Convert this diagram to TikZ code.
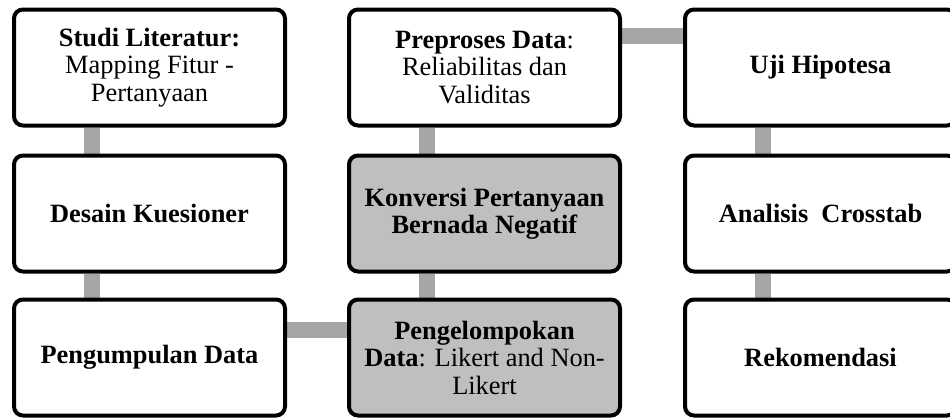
\documentclass[tikz,border=0pt]{standalone}
\usepackage{fontspec}
\setmainfont{Liberation Serif}
\usetikzlibrary{calc}
\pgfdeclarelayer{bg}
\pgfsetlayers{bg,main}
\definecolor{barc}{HTML}{A6A6A6}
\definecolor{boxgray}{HTML}{BFBFBF}
\tikzset{
  stepbox/.style={draw=black, line width=4pt, rounded corners=9pt, fill=white,
    minimum width=271pt, minimum height=116pt, align=center, inner sep=2pt,
    font=\fontsize{26.4}{27.5}\selectfont},
  graybox/.style={stepbox, fill=boxgray},
  bar/.style={draw=barc, line width=16pt},
}
\begin{document}
\begin{tikzpicture}[x=1pt,y=-1pt]
\useasboundingbox (0,0) rectangle (950,418);
\clip (0,0) rectangle (950,418);
\begin{pgfonlayer}{bg}
\fill[white] (0,0) rectangle (950,418);
\end{pgfonlayer}
% nodes
\node[stepbox] (a1) at (149.5,67.5) {\textbf{Studi Literatur:}\\Mapping Fitur -\\Pertanyaan};
\node[stepbox] (a2) at (149.5,213.5) {\textbf{Desain Kuesioner}};
\node[stepbox] (a3) at (149.5,357.5) {\textbf{Pengumpulan Data}};
\node[stepbox] (b1) at (484.5,67.5) {\textbf{Preproses Data}:\\Reliabilitas dan\\Validitas};
\node[graybox] (b2) at (484.5,213.5) {\textbf{Konversi Pertanyaan}\\\textbf{Bernada Negatif}};
\node[graybox] (b3) at (484.5,357.5) {\textbf{Pengelompokan}\\\textbf{Data}: Likert and Non-\\Likert};
\node[stepbox] (c1) at (820.5,67.5) {\textbf{Uji Hipotesa}};
\node[stepbox] (c2) at (820.5,213.5) {\textbf{Analisis\ \ Crosstab}};
\node[stepbox] (c3) at (820.5,357.5) {\textbf{Rekomendasi}};
% connectors
\begin{pgfonlayer}{bg}
\path[bar] ([xshift=-58pt]a1.south) -- ([xshift=-58pt]a2.north);
\path[bar] ([xshift=-58pt]a2.south) -- ([xshift=-58pt]a3.north);
\path[bar] ([yshift=28pt]a3.east) -- ([yshift=28pt]b3.west);
\path[bar] ([xshift=-57.5pt]b3.north) -- ([xshift=-57.5pt]b2.south);
\path[bar] ([xshift=-57.5pt]b2.north) -- ([xshift=-57.5pt]b1.south);
\path[bar] ([yshift=31.5pt]b1.east) -- ([yshift=31.5pt]c1.west);
\path[bar] ([xshift=-57.5pt]c1.south) -- ([xshift=-57.5pt]c2.north);
\path[bar] ([xshift=-57.5pt]c2.south) -- ([xshift=-57.5pt]c3.north);
\end{pgfonlayer}
\end{tikzpicture}
\end{document}
